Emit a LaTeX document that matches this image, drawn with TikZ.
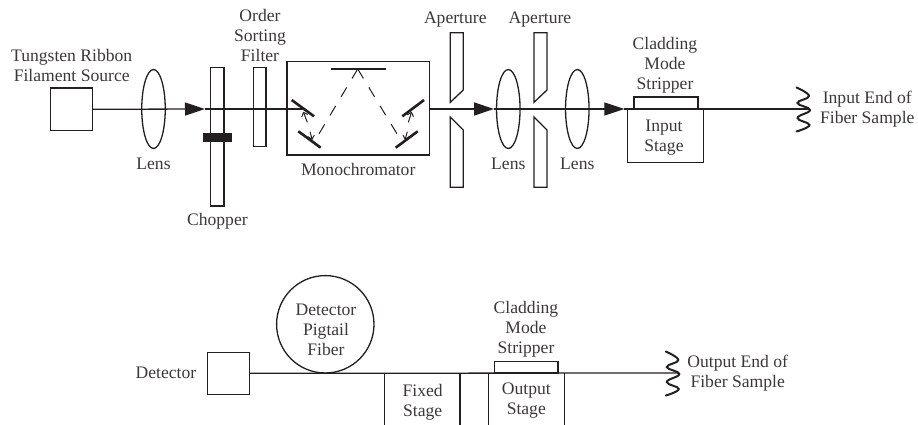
\documentclass[tikz,border=0pt]{standalone}
\usepackage{fontspec}
\setmainfont{Liberation Serif}
\usepackage{xcolor}
\usetikzlibrary{shapes.geometric, arrows.meta, positioning}
\definecolor{inkdark}{RGB}{35,31,32}
\definecolor{inktext}{RGB}{60,56,57}

\begin{document}
\begin{tikzpicture}[
  x=1pt, y=-1pt,
  every node/.style={inner sep=0pt, outer sep=0pt},
  txt/.style={font=\fontsize{17.6}{20}\selectfont, text=inktext, align=center},
  box/.style={rectangle, draw=inkdark, line width=1.3pt},
  lens/.style={ellipse, draw=inkdark, line width=1.3pt, minimum width=23.5pt, minimum height=79pt},
  beam/.style={draw=inkdark, line width=1.3pt},
  beamtip/.style={beam, -{Triangle[length=20pt, width=13pt]}},
  mirror/.style={draw=inkdark, line width=2.6pt},
  ray/.style={draw=inkdark, line width=1pt, dash pattern=on 11pt off 10.5pt},
  rayend/.style={draw=inkdark, line width=1pt, -{Straight Barb[length=3.5pt, width=6.5pt]}},
  pics/squiggle/.style={code={
    \draw[draw=inkdark, line width=2pt, line cap=round] plot[smooth, tension=0.75] coordinates
      {(-13.5,-21.5) (-1,-13) (-12.5,-6) (0,1) (-12.5,9) (-0.5,16) (-13.5,22.5)};
  }},
]
\useasboundingbox (0,0) rectangle (918,425);

% ── Source and lens ──
\node[box, minimum width=42.2pt, minimum height=42.6pt] (source) at (71.6,109.3) {};
\node[txt] (sourcetxt) at (71.7,65) {Tungsten Ribbon\\Filament Source};
\node[lens] (lensa) at (153.5,109) {};
\node[txt, below=9.5pt of lensa] (lensatxt) {Lens};

% ── Chopper and filter ──
\node[box, minimum width=13.3pt, minimum height=138.3pt] (chopper) at (217.4,136.8) {};
\node[rectangle, fill=inkdark, minimum width=29pt, minimum height=8.7pt] (blade) at (217.2,137.7) {};
\node[txt, below=7.5pt of chopper] (choppertxt) {Chopper};
\node[box, minimum width=12.7pt, minimum height=79pt] (filter) at (259.7,107.2) {};
\node[txt] (filtertxt) at (260,35) {Order\\Sorting\\Filter};

% ── Monochromator ──
\node[box, minimum width=142.3pt, minimum height=93.3pt] (mono) at (358.2,108.3) {};
\node[txt, below=8.5pt of mono] (monotxt) {Monochromator};
\foreach \n/\x/\y in {ma/291.7/100, mb/314/116.3, mc/298.3/131.3, md/320.7/147.7,
                      me/331/69, mf/385.7/69, mg/424/100, mh/402.3/116.3,
                      mi/417.7/131.3, mj/395.7/147.7,
                      hit/303.3/109, peak/357.7/69, raya/318.3/135, rayb/397.7/135,
                      ta/303.3/111.7, tb/307.3/122.3, tc/312.3/140, td/310/131.7,
                      te/405/140, tf/407.3/131.7, tg/411.7/111.7, th/408.3/122.3}
  \coordinate (\n) at (\x,\y);
\foreach \a/\b in {ma/mb, mc/md, me/mf, mg/mh, mi/mj}
  \draw[mirror] (\a) -- (\b);
\draw[ray] (peak) -- (raya);
\draw[ray] (peak) -- (rayb);
\foreach \a/\b in {tb/ta, td/tc, tf/te, th/tg}
  \draw[rayend] (\a) -- (\b);

% ── Apertures ──
\foreach \x/\n in {450.3/ap, 534/aq} {
  \draw[beam] (\x,32.7) -- ++(13,0) -- ++(0,57.3) -- ++(-13,12.3) -- cycle;
  \draw[beam] (\x,117) -- ++(13,13) -- ++(0,57.3) -- ++(-13,0) -- cycle;
  \coordinate (\n) at (\x+6.5,32.7);
}
\node[txt, above=5.5pt of ap, xshift=-1.5pt] (aptxt) {Aperture};
\node[txt, above=5.5pt of aq, xshift=-0.5pt] (aqtxt) {Aperture};

% ── Lenses and input stage ──
\node[lens] (lensb) at (508.3,109) {};
\node[txt, below=9.5pt of lensb] (lensbtxt) {Lens};
\node[lens] (lensc) at (577.3,109) {};
\node[txt, below=9.5pt of lensc] (lensctxt) {Lens};
\node[box, minimum width=76pt, minimum height=53.3pt] (instage) at (665.3,135.6) {};
\node[txt] at (664,138) (instagetxt) {Input\\Stage};
\node[box, anchor=south, minimum width=64pt, minimum height=12pt] (instrip) at (666,109) {};
\node[txt] (instriptxt) at (665,65.5) {Cladding\\Mode\\Stripper};

% ── Input beam ──
\coordinate (tipa) at (205,109);
\coordinate (tipb) at (494,109);
\coordinate (tipc) at (624.3,109);
\coordinate (inend) at (810,109);
\draw[beamtip] (source.east) -- (tipa);
\draw[beam] (tipa) -- (mono.west |- hit) -- (hit);
\draw[beamtip] (mono.east |- tipb) -- (tipb);
\draw[beam] (tipb) -- (lensc.east);
\draw[beamtip] (lensc.east) -- (tipc);
\draw[beam] (tipc) -- (inend);
\pic at (inend) {squiggle};
\node[txt] (inendtxt) at (867.3,109) {Input End of\\Fiber Sample};

% ── Output side ──
\node[box, minimum width=42pt, minimum height=42pt] (detector) at (228.7,373.3) {};
\node[txt, left=11.5pt of detector] (detectortxt) {Detector};
\node[circle, draw=inkdark, line width=1.3pt, minimum size=97.4pt] (pigtail) at (325.3,324.3) {};
\node[txt] (pigtailtxt) at (326,329.5) {Detector\\Pigtail\\Fiber};
\node[txt] (fixedtxt) at (422.7,402.5) {Fixed\\Stage};
\node[txt] (outstagetxt) at (526.3,401) {Output\\Stage};
\node[box, anchor=south, minimum width=63.7pt, minimum height=11.3pt] (outstrip) at (526.2,373) {};
\node[txt] (outstriptxt) at (526,329.5) {Cladding\\Mode\\Stripper};
\coordinate (outend) at (679.3,373);
\draw[beam] (detector.east) -- (outend);
\foreach \x/\n in {384.3/fa, 460/fb, 488.3/oa, 564.3/ob} {
  \coordinate (\n) at (\x,373);
  \draw[beam] (\n) -- (\x,425);
}
\pic at (outend) {squiggle};
\node[txt] (outendtxt) at (737.7,373) {Output End of\\Fiber Sample};

\end{tikzpicture}
\end{document}
